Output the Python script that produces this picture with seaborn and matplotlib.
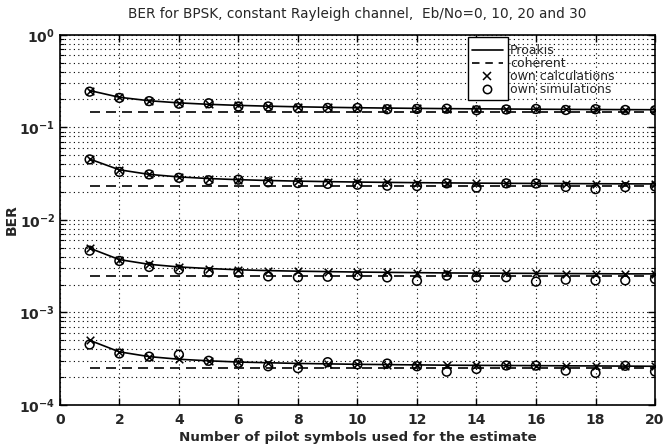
import numpy as np
import pandas as pd
import matplotlib.pyplot as plt
import seaborn as sns
from matplotlib.patches import Rectangle
from matplotlib.lines import Line2D
from matplotlib.ticker import LogLocator, MultipleLocator

# number of pilot symbols and Eb/No values (dB)
n_pilots = list(range(1, 21))
ebno_db = [0, 10, 20, 30]

# Proakis curves
proakis_0 = [0.2500, 0.2113, 0.1938, 0.1838, 0.1773, 0.1727, 0.1693, 0.1667, 0.1646, 0.1629,
             0.1615, 0.1603, 0.1593, 0.1584, 0.1577, 0.1570, 0.1564, 0.1559, 0.1554, 0.1550]
proakis_10 = [0.04546, 0.03476, 0.03102, 0.02912, 0.02797, 0.02719, 0.02664, 0.02622, 0.02590, 0.02563,
              0.02542, 0.02524, 0.02509, 0.02496, 0.02485, 0.02475, 0.02466, 0.02459, 0.02452, 0.02446]
proakis_20 = [0.00495, 0.00372, 0.00331, 0.00310, 0.00298, 0.00289, 0.00283, 0.00279, 0.00276, 0.00273,
              0.00271, 0.00269, 0.00267, 0.00266, 0.00265, 0.00264, 0.00263, 0.00262, 0.00261, 0.00261]
proakis_30 = [0.000500, 0.000375, 0.000333, 0.000312, 0.000300, 0.000291, 0.000286, 0.000281, 0.000278, 0.000275,
              0.000273, 0.000271, 0.000269, 0.000268, 0.000267, 0.000266, 0.000265, 0.000264, 0.000263, 0.000262]

# own calculations (x markers), on top of the Proakis curves
calc_0 = proakis_0
calc_10 = proakis_10
calc_20 = proakis_20
calc_30 = proakis_30

# own simulations (circles)
sim_0 = [0.243, 0.208, 0.192, 0.180, 0.182, 0.168, 0.168, 0.161, 0.162, 0.162,
         0.157, 0.158, 0.159, 0.153, 0.156, 0.158, 0.154, 0.157, 0.154, 0.153]
sim_10 = [0.0450, 0.0330, 0.0310, 0.0285, 0.0268, 0.0272, 0.0255, 0.0250, 0.0245, 0.0240,
          0.0234, 0.0232, 0.0248, 0.0223, 0.0248, 0.0247, 0.0227, 0.0215, 0.0226, 0.0230]
sim_20 = [0.00465, 0.00360, 0.00310, 0.00290, 0.00272, 0.00269, 0.00245, 0.00240, 0.00243, 0.00251,
          0.00239, 0.00219, 0.00250, 0.00239, 0.00240, 0.00215, 0.00226, 0.00222, 0.00222, 0.00230]
sim_30 = [0.000450, 0.000360, 0.000333, 0.000350, 0.000300, 0.000285, 0.000262, 0.000250, 0.000290, 0.000275,
          0.000280, 0.000262, 0.000229, 0.000245, 0.000267, 0.000266, 0.000235, 0.000222, 0.000265, 0.000230]

# coherent detection BER
coherent = [0.1464, 0.02327, 0.002481, 0.0002498]

# long table for seaborn
rows = []
for eb, pr, ca, si in zip(ebno_db,
                          [proakis_0, proakis_10, proakis_20, proakis_30],
                          [calc_0, calc_10, calc_20, calc_30],
                          [sim_0, sim_10, sim_20, sim_30]):
    for n, p, c, s in zip(n_pilots, pr, ca, si):
        rows.append({"pilots": n, "ebno": eb, "proakis": p, "calc": c, "sim": s})
df = pd.DataFrame(rows)

coh_df = pd.DataFrame({
    "pilots": [n_pilots[0], n_pilots[-1]] * len(ebno_db),
    "ebno": np.repeat(ebno_db, 2),
    "ber": np.repeat(coherent, 2),
})

sns.set_style("ticks")
plt.rcParams["font.family"] = ["DejaVu Sans"]
plt.rcParams["xtick.direction"] = "in"
plt.rcParams["ytick.direction"] = "in"

fig = plt.figure(figsize=(6.65, 4.46), dpi=100)
ax = fig.add_axes([0.090, 0.092, 0.895, 0.830])

sns.lineplot(data=df, x="pilots", y="proakis", units="ebno", estimator=None,
             color="k", lw=1.2, ax=ax, legend=False, zorder=3)
sns.lineplot(data=coh_df, x="pilots", y="ber", units="ebno", estimator=None,
             color="k", lw=1.2, ax=ax, legend=False, zorder=3)
for ln in ax.lines[len(ebno_db):]:
    ln.set_dashes([6, 3.6])
sns.scatterplot(data=df, x="pilots", y="calc", marker="x", color="k", s=30,
                linewidth=1.1, ax=ax, legend=False, zorder=4)
sns.scatterplot(data=df, x="pilots", y="sim", marker="o", facecolor="none",
                edgecolor="k", s=40, linewidth=1.1, ax=ax, legend=False, zorder=4)

ax.set_yscale("log")
ax.set_xlim(0, 20)
ax.set_ylim(1e-4, 1)
ax.xaxis.set_major_locator(MultipleLocator(2))
ax.yaxis.set_major_locator(LogLocator(base=10, numticks=10))
ax.yaxis.set_minor_locator(LogLocator(base=10, subs=np.arange(2, 10), numticks=20))

ax.grid(True, which="major", axis="x", color="k", linestyle=(0, (1, 3)), lw=0.8)
ax.grid(True, which="both", axis="y", color="k", linestyle=(0, (1, 3)), lw=0.8)
ax.tick_params(which="both", top=True, right=True, direction="in", color="k")
ax.tick_params(which="major", length=5, width=1, labelsize=10)
ax.tick_params(which="minor", length=3, width=0.8)
ax.tick_params(axis="x", which="major", pad=5.5)
for lab in ax.get_xticklabels() + ax.get_yticklabels():
    lab.set_fontweight("bold")
for sp in ax.spines.values():
    sp.set_visible(True)
    sp.set_color("k")
    sp.set_linewidth(1.2)

ax.set_title("BER for BPSK, constant Rayleigh channel,  Eb/No=0, 10, 20 and 30",
             fontsize=9.8, pad=12)
ax.set_xlabel("Number of pilot symbols used for the estimate", fontsize=9.7,
              fontweight="bold", labelpad=3)
ax.set_ylabel("BER", fontsize=10, fontweight="bold", labelpad=0)

# legend: box round the symbols only, text outside the box
box = Rectangle((0.686, 0.824), 0.067, 0.171, transform=ax.transAxes,
                facecolor="white", edgecolor="k", lw=1.0, zorder=5)
ax.add_patch(box)
handles = [
    Line2D([], [], color="k", lw=1.2),
    Line2D([], [], color="k", lw=1.2, dashes=[4.5, 3.5]),
    Line2D([], [], color="k", lw=0, marker="x", markersize=6, markeredgewidth=1.1),
    Line2D([], [], color="k", lw=0, marker="o", markersize=6, markerfacecolor="none", markeredgewidth=1.1),
]
labels = ["Proakis", "coherent", "own calculations", "own simulations"]
leg = ax.legend(handles, labels, loc="upper left", bbox_to_anchor=(0.6924, 0.974),
                frameon=False, fontsize=9, handlelength=2.45, handletextpad=0.6,
                labelspacing=0.0, borderaxespad=0, borderpad=0)
leg.set_zorder(6)

fig.savefig("out.png", dpi=100)
